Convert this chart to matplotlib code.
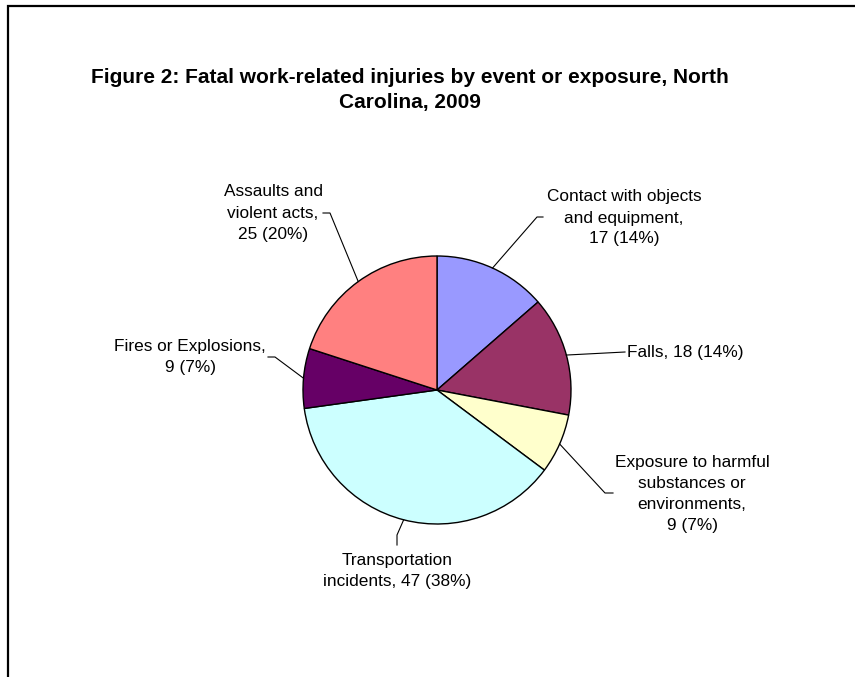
import matplotlib
matplotlib.use("Agg")
import numpy as np
import matplotlib.pyplot as plt
from matplotlib.patches import Rectangle

# data, clockwise from 12 o'clock
categories = ["Contact with objects\nand equipment,", "Falls,",
              "Exposure to harmful\nsubstances or\nenvironments,",
              "Transportation\nincidents,", "Fires or Explosions,",
              "Assaults and\nviolent acts,"]
values = [17, 18, 9, 47, 9, 25]
colors = ["#9999FF", "#993366", "#FFFFCC", "#CCFFFF", "#660066", "#FF8080"]
seps = ["\n", " ", "\n", " ", "\n", "\n"]

W, H = 855, 677


def main():
    plt.rcParams['font.family'] = ['Liberation Sans', 'DejaVu Sans']
    fig = plt.figure(figsize=(W / 100, H / 100), dpi=100)
    ax = fig.add_axes([0, 0, 1, 1])

    cx, cy, r = 437, H - 390, 134
    wedges, _ = ax.pie(values, colors=colors, startangle=90, counterclock=False,
                       center=(cx, cy), radius=r,
                       wedgeprops=dict(edgecolor="black", linewidth=1.0))
    ax.set_xlim(0, W)
    ax.set_ylim(0, H)
    ax.set_aspect("auto")
    ax.axis("off")

    # chart frame (only top and left edges visible in the crop)
    ax.add_patch(Rectangle((8, -20), W + 20, H - 6 + 20, fill=False,
                           edgecolor="black", linewidth=1.6, zorder=5))

    ax.text(410, H - 90, "Figure 2: Fatal work-related injuries by event or exposure, North\nCarolina, 2009",
            ha="center", va="center", fontsize=15, fontweight="bold",
            linespacing=1.4)

    total = sum(values)
    # label layout: text position, alignment, elbow and end of the leader line
    layout = [
        ((624, 218), "center", [(537, 217), (543, 217)]),
        ((627, 352), "left", [(625, 352)]),
        ((692, 494), "center", [(605, 493), (613, 493)]),
        ((397, 571), "center", [(397, 535), (397, 545)]),
        ((190, 357), "center", [(275, 357), (268, 357)]),
        ((273, 213), "center", [(330, 213), (323, 213)]),
    ]
    for w, name, v, sep, (pos, ha, pts) in zip(wedges, categories, values, seps, layout):
        mid = np.deg2rad((w.theta1 + w.theta2) / 2)
        xs = [cx + r * np.cos(mid)] + [p[0] for p in pts]
        ys = [cy + r * np.sin(mid)] + [H - p[1] for p in pts]
        ax.plot(xs, ys, color="black", linewidth=0.8)
        label = f"{name}{sep}{v} ({round(100 * v / total)}%)"
        ax.text(pos[0], H - pos[1], label, ha=ha, va="center",
                multialignment="center", fontsize=12.4, linespacing=1.5)

    fig.savefig("out.png", dpi=100)


if __name__ == '__main__':
    main()
